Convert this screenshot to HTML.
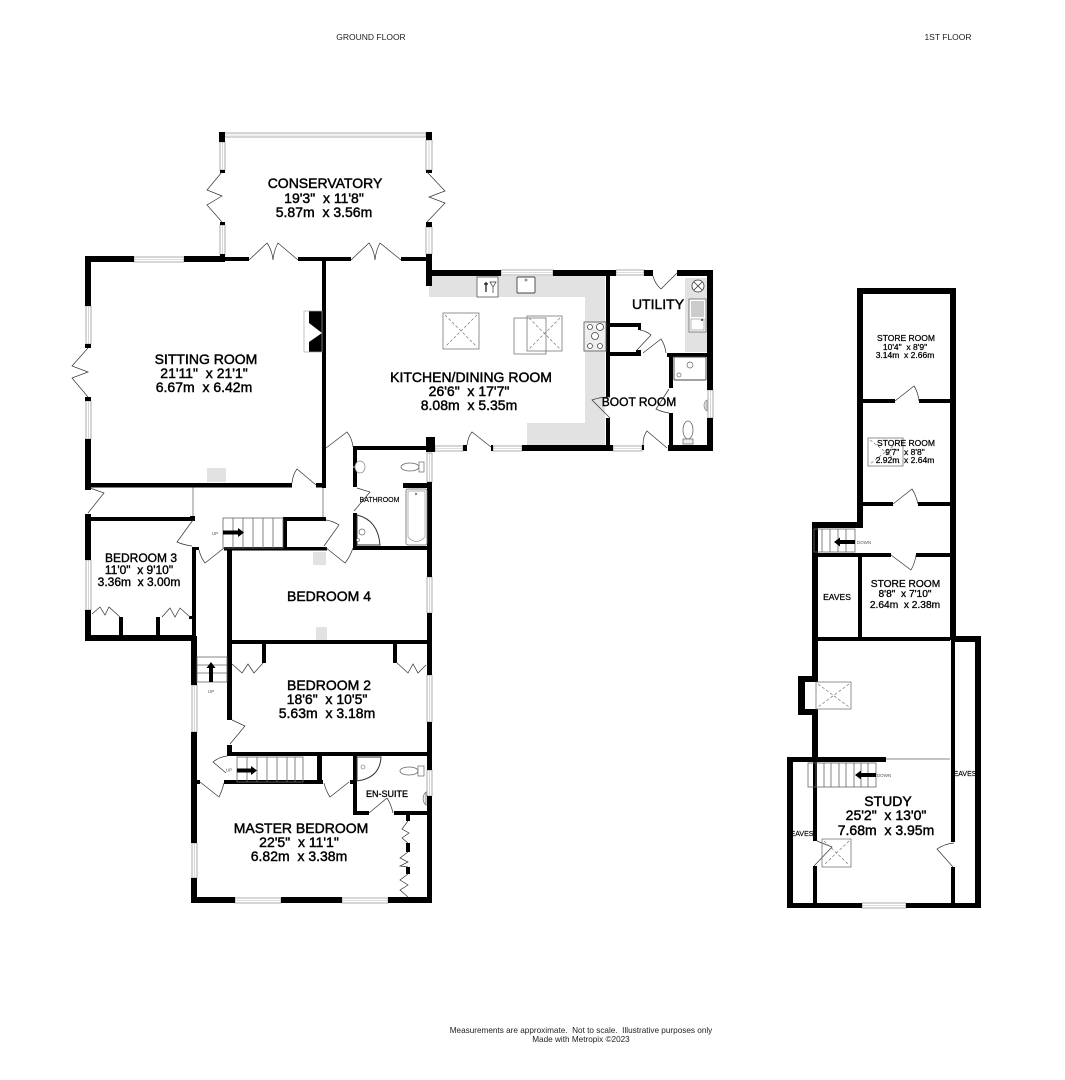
<!DOCTYPE html>
<html><head><meta charset="utf-8"><style>
html,body{margin:0;padding:0;background:#fff}
svg{display:block}
text{font-family:"Liberation Sans",sans-serif;text-anchor:middle;fill:#000;white-space:pre}
.l{font-size:14px;stroke:#000;stroke-width:.45}
.m{font-size:12px;stroke:#000;stroke-width:.38}
.s{font-size:10.2px;stroke:#000;stroke-width:.3}
.t{font-size:8.5px;stroke:#000;stroke-width:.25}
.x{font-size:7px;stroke:#000;stroke-width:.15}
.n{font-size:8.2px;fill:#222}
.h{font-size:8.5px;fill:#222}
.u{font-size:4.5px;fill:#555}
.w{fill:#000}
.d{fill:none;stroke:#333;stroke-width:.7}
.g{fill:#e2e2e2}
.o{fill:#fff;stroke:#777;stroke-width:.8}
.f{fill:none;stroke:#666;stroke-width:.8}
.k{fill:none;stroke:#777;stroke-width:.7;stroke-dasharray:3 2}
.win{fill:#fff;stroke:#999;stroke-width:.8}
</style></head><body>
<svg width="1065" height="1080" viewBox="0 0 1065 1080" xmlns="http://www.w3.org/2000/svg">
<rect width="1065" height="1080" fill="#fff"/>

<!-- grey counters -->
<path class="g" d="M429 276H605V445H527V423H585V393H585V297H429Z"/>
<rect class="g" x="685" y="278" width="22" height="74"/>
<rect class="g" x="207" y="468" width="19" height="14"/>
<rect class="g" x="313" y="552" width="13" height="13"/>
<rect class="g" x="316" y="627" width="11" height="13"/>

<!-- labels that get clipped by walls -->
<text class="x" x="965" y="776">EAVES</text>
<text class="x" x="802" y="836">EAVES</text>

<!-- windows -->
<g class="win">
<rect x="224" y="133" width="202" height="4"/>
<rect x="220" y="142" width="5" height="28"/><rect x="426" y="140" width="6" height="30"/>
<rect x="220" y="225" width="5" height="30"/><rect x="426" y="227" width="6" height="27"/>
<rect x="134" y="257" width="50" height="5"/>
<rect x="86" y="306" width="5" height="38"/><rect x="86" y="401" width="5" height="38"/>
<rect x="501" y="270" width="52" height="5"/><rect x="616" y="270" width="28" height="5"/>
<rect x="435" y="446" width="28" height="5"/><rect x="493" y="446" width="29" height="5"/>
<rect x="613" y="446" width="29" height="5"/>
<rect x="708" y="390" width="5" height="28"/>
<rect x="427" y="453" width="5" height="29"/>
<rect x="86" y="560" width="5" height="50"/>
<rect x="427" y="577" width="5" height="36"/><rect x="427" y="675" width="5" height="47"/>
<rect x="192" y="685" width="5" height="47"/><rect x="427" y="770" width="5" height="26"/>
<rect x="192" y="843" width="5" height="35"/>
<rect x="235" y="898" width="46" height="5"/><rect x="342" y="898" width="46" height="5"/>
<rect x="862" y="903" width="44" height="5"/>
</g>
<path d="M224 135H426M222.500 142V170M429 140V170M222.500 225V255M429 227V254M134 259.500H184M88.500 306V344M88.500 401V439M501 272.500H553M616 272.500H644M435 448.500H463M493 448.500H522M613 448.500H642M710.500 390V418M429.500 453V482M88.500 560V610M429.500 577V613M429.500 675V722M194.500 685V732M429.500 770V796M194.500 843V878M235 900.500H281M342 900.500H388M862 905.500H906" fill="none" stroke="#bbb" stroke-width=".6"/>

<!-- thin lines -->
<path d="M193 487V517M323 487V517M886 759H950" stroke="#888" stroke-width="1" fill="none"/>

<!-- walls -->
<g class="w">
<!-- conservatory -->
<rect x="219" y="132" width="6" height="10"/><rect x="426" y="132" width="6" height="8"/>
<rect x="220" y="170" width="5" height="3"/><rect x="426" y="170" width="6" height="3"/>
<rect x="220" y="222" width="5" height="3"/><rect x="426" y="222" width="6" height="5"/>
<rect x="220" y="254" width="5" height="8"/>
<!-- sitting room -->
<rect x="85" y="256" width="49" height="6"/><rect x="184" y="256" width="41" height="6"/>
<rect x="225" y="257" width="24" height="4"/><rect x="298" y="257" width="53" height="4"/>
<rect x="401" y="257" width="26" height="4"/><rect x="426" y="254" width="6" height="32"/>
<rect x="85" y="256" width="6" height="50"/><rect x="85" y="344" width="6" height="4"/>
<rect x="85" y="397" width="6" height="4"/><rect x="85" y="439" width="6" height="51"/>
<rect x="85" y="483" width="207" height="4.500"/><rect x="316" y="483" width="10" height="4.500"/>
<rect x="322" y="260" width="4" height="228"/>
<path d="M309 311H322V352H309V342L322 333 309 323Z"/>
<!-- kitchen -->
<rect x="432" y="270" width="69" height="6"/><rect x="553" y="270" width="63" height="6"/>
<rect x="644" y="270" width="9" height="6"/><rect x="677" y="270" width="36" height="6"/>
<rect x="707" y="270" width="6" height="120"/><rect x="707" y="418" width="6" height="33"/>
<rect x="668" y="445" width="45" height="6"/><rect x="522" y="445" width="91" height="6"/>
<rect x="642" y="445" width="2" height="5"/><rect x="463" y="445" width="4" height="6"/><rect x="491" y="445" width="2" height="6"/>
<rect x="426" y="437" width="9" height="15"/>
<rect x="606" y="276" width="4" height="121"/><rect x="606" y="418" width="4" height="29"/>
<rect x="610" y="323" width="30" height="4"/><rect x="638" y="323" width="3" height="7"/>
<rect x="610" y="352" width="31" height="4"/><rect x="636" y="350" width="5" height="4"/>
<rect x="667" y="353" width="41" height="4"/><rect x="669" y="353" width="4" height="35"/>
<rect x="669" y="413" width="4" height="38"/>
<!-- bathroom -->
<rect x="353" y="446" width="74" height="4"/><rect x="353" y="446" width="4" height="41"/>
<rect x="403" y="483" width="29" height="5"/><rect x="427" y="482" width="5" height="95"/>
<rect x="353" y="513" width="4" height="35"/><rect x="353" y="546" width="79" height="4"/>
<!-- hall/stairs -->
<rect x="85" y="514" width="6" height="46"/><rect x="85" y="517" width="110" height="4"/>
<rect x="85" y="610" width="6" height="31"/><rect x="85" y="635" width="111" height="6"/>
<rect x="190" y="516" width="5" height="5"/><rect x="192" y="547" width="4" height="93"/>
<rect x="192" y="547" width="7" height="3"/>
<rect x="191" y="636" width="6" height="49"/>
<rect x="224" y="547" width="103" height="3.500"/><rect x="283" y="517" width="43" height="4"/>
<rect x="283" y="518" width="4" height="30"/>
<rect x="227" y="550" width="5" height="170"/><rect x="227" y="640" width="205" height="4"/>
<rect x="427" y="613" width="5" height="62"/>
<rect x="119" y="617" width="4" height="18"/><rect x="156" y="617" width="4" height="18"/>
<rect x="189" y="616" width="3" height="3"/>
<rect x="262" y="644" width="4" height="19"/><rect x="393" y="644" width="4" height="19"/>
<!-- bedroom 2 / master -->
<rect x="427" y="722" width="5" height="48"/><rect x="427" y="796" width="5" height="107"/>
<rect x="227" y="745" width="5" height="10"/><rect x="227" y="752" width="205" height="4"/>
<rect x="191" y="732" width="6" height="111"/><rect x="191" y="878" width="6" height="25"/>
<rect x="191" y="897" width="44" height="6"/><rect x="281" y="897" width="61" height="6"/><rect x="388" y="897" width="44" height="6"/>
<rect x="197" y="780" width="3" height="4"/><rect x="224" y="780" width="99" height="4"/>
<rect x="317" y="756" width="5" height="26"/><rect x="350" y="780" width="3" height="4"/>
<rect x="353" y="756" width="4" height="59"/><rect x="353" y="811" width="16" height="4"/>
<rect x="394" y="811" width="33" height="4"/>
<rect x="406" y="815" width="4" height="6"/><rect x="406" y="843" width="4" height="9"/><rect x="406" y="867" width="4" height="7"/>
<!-- first floor -->
<rect x="857" y="288" width="99" height="6"/><rect x="857" y="288" width="6" height="240"/>
<rect x="950" y="288" width="6" height="352"/>
<rect x="863" y="399" width="32" height="4"/><rect x="919" y="399" width="31" height="4"/>
<rect x="863" y="502" width="30" height="4"/><rect x="918" y="502" width="32" height="4"/>
<rect x="812" y="522" width="51" height="6"/><rect x="812" y="522" width="6" height="154"/>
<rect x="818" y="553" width="73" height="4"/><rect x="916" y="553" width="34" height="4"/>
<rect x="858" y="555" width="4" height="84"/>
<rect x="812" y="637" width="138" height="4"/><rect x="953" y="636" width="28" height="6"/>
<rect x="975" y="636" width="6" height="272"/><rect x="951" y="640" width="4" height="202"/>
<rect x="951" y="867" width="4" height="38"/>
<rect x="798" y="676" width="20" height="6"/><rect x="798" y="676" width="7" height="39"/><rect x="798" y="709" width="20" height="6"/>
<rect x="812" y="709" width="6" height="48"/>
<rect x="787" y="757" width="6" height="151"/><rect x="787" y="757" width="99" height="5"/>
<rect x="787" y="903" width="75" height="5"/><rect x="906" y="903" width="75" height="5"/>
<rect x="813" y="762" width="4" height="79"/><rect x="813" y="866" width="4" height="39"/>
</g>

<!-- fireplace outline -->
<rect x="304" y="311" width="18" height="41" fill="none" stroke="#aaa" stroke-width=".7"/>

<!-- doors -->
<g class="d">
<path d="M222 172L207 190 222 196 207 205 222 222"/>
<path d="M427 172L445 191 429 197 445 203 427 222"/>
<path d="M249 260L267 243Q272 250 273 260Q274 250 278 243L298 260"/>
<path d="M351 260L369 243Q374 250 375 260Q376 250 380 243L401 260"/>
<path d="M88 348L72 366 88 372 72 378 88 397"/>
<path d="M292 483Q293 474 297 469L316 485"/>
<path d="M326 448L347 432Q352 438 353 447"/>
<path d="M90 488L104 493 88 513"/>
<path d="M357 488L370 492 354 511"/>
<path d="M653 276Q655 284 661 289L677 273"/>
<path d="M640 330Q646 331 651 335L636 351"/>
<path d="M643 353L661 339Q665 345 666 353"/>
<path d="M669 389L656 409Q662 412 669 413"/>
<path d="M610 397Q600 397 592 400L610 418"/>
<path d="M643 445Q643 436 647 431L667 448"/>
<path d="M467 445Q468 437 472 432L491 447"/>
<path d="M193 520L177 542Q184 545 192 546"/>
<path d="M199 550Q201 558 205 563L224 548"/>
<path d="M326 520Q333 521 339 525L324 546"/>
<path d="M325 547L345 563Q350 557 353 548"/>
<path d="M92 614L100 607 105 615 109 607 120 617"/>
<path d="M162 617L170 608 175 617 180 608 190 617"/>
<path d="M232 664L242 673 248 664 254 673 263 663"/>
<path d="M396 662L408 673 413 664 418 673 426 665"/>
<path d="M232 720L245 726 230 744"/>
<path d="M226 773L213 762Q219 757 227 756"/>
<path d="M200 782L219 797Q222 791 224 783"/>
<path d="M324 783Q326 791 330 797L349 782"/>
<path d="M369 813L387 798Q391 804 393 813"/>
<path d="M408 821L402 829 409 833 402 838 408 843"/>
<path d="M408 852L400 858 408 862 400 866 408 867"/>
<path d="M408 874L400 880 408 885 400 890 408 897"/>
<path d="M895 401L914 386Q918 392 919 401"/>
<path d="M893 504L912 489Q916 495 918 504"/>
<path d="M891 555L911 570Q915 563 916 555"/>
<path d="M954 843Q944 844 937 849L953 867"/>
<path d="M817 841L832 847 814 866"/>
</g>

<!-- skylights -->
<rect x="443" y="313" width="36" height="36" style="fill:none" class="o"/>
<path class="k" d="M445 315L477 347M477 315L445 347"/>
<rect x="527" y="316" width="35" height="35" style="fill:none" class="o"/>
<path class="k" d="M529 318L560 349M560 318L529 349"/>
<rect x="514" y="318" width="32" height="36" style="fill:none" class="o"/>
<rect x="816" y="682" width="35" height="27" style="fill:none" class="o"/>
<path class="k" d="M818 684L849 707M849 684L818 707"/>
<rect x="822" y="839" width="29" height="28" style="fill:none" class="o"/>
<path class="k" d="M824 841L849 865M849 841L824 865"/>
<rect x="868" y="438" width="35" height="28" style="fill:none" class="o"/>
<path class="k" d="M870 440L901 464M901 440L870 464"/>

<!-- fixtures -->
<rect x="477" y="277" width="21" height="20" fill="#fff" stroke="#555" stroke-width=".8"/>
<path d="M486 282V292M484 284H488" stroke="#111" stroke-width="1.200" fill="none"/>
<path d="M490 282H496L493 287ZM493 287V293" stroke="#333" stroke-width=".7" fill="none"/>
<rect x="517" y="277" width="18" height="16" rx="1" fill="#fff" stroke="#444" stroke-width=".9"/>
<circle cx="526" cy="280" r="1.500" fill="#999"/>
<rect x="584" y="322" width="22" height="29" fill="#eee" stroke="#555" stroke-width=".8"/>
<g fill="#fff" stroke="#444" stroke-width=".8">
<circle cx="590" cy="327" r="2.500"/><circle cx="600" cy="327" r="3.500"/><circle cx="595" cy="336" r="3.500"/><circle cx="590" cy="346" r="2.500"/><circle cx="600" cy="346" r="2.500"/>
</g>
<circle cx="698" cy="286" r="6" fill="#fff" stroke="#333" stroke-width=".8"/>
<path d="M694 282L702 290M702 282L694 290" stroke="#333" stroke-width=".8"/>
<rect x="689" y="299" width="17" height="33" fill="#fff" stroke="#666" stroke-width=".8"/>
<rect x="691" y="301" width="13" height="16" fill="#ccc"/>
<rect x="691" y="319" width="13" height="11" fill="#fff" stroke="#888" stroke-width=".6"/>
<circle cx="702" cy="320" r="1" fill="#333"/>
<rect x="674" y="357" width="32" height="23" rx="1" fill="#fff" stroke="#444" stroke-width=".9"/>
<circle cx="690" cy="365" r="3" fill="#fff" stroke="#666" stroke-width=".7"/>
<circle cx="679" cy="375" r="2" fill="#fff" stroke="#666" stroke-width=".7"/>
<path d="M707 400A5 6 0 0 0 707 411Z" fill="#ddd" stroke="#777" stroke-width=".6"/>
<ellipse cx="688" cy="430" rx="5" ry="9" fill="#fff" stroke="#666" stroke-width=".8"/>
<rect x="683" y="439" width="10" height="5" fill="#eee" stroke="#666" stroke-width=".7"/>
<ellipse cx="360" cy="467" rx="5" ry="6" fill="#fff" stroke="#888" stroke-width=".7"/>
<ellipse cx="354" cy="467" rx="1" ry="1" fill="#888"/>
<ellipse cx="410" cy="467" rx="9" ry="4" fill="#fff" stroke="#666" stroke-width=".8"/>
<rect x="419" y="462" width="5" height="10" fill="#fff" stroke="#666" stroke-width=".7"/>
<rect x="406" y="489" width="21" height="56" rx="2" fill="#fff" stroke="#666" stroke-width=".8"/>
<path d="M408 491H425V537Q416 546 408 537Z" fill="#fff" stroke="#999" stroke-width=".7"/>
<circle cx="416" cy="494" r="1.200" fill="#888"/>
<path d="M357 515Q378 520 380 545H357Z" fill="#fff" stroke="#333" stroke-width="1"/>
<circle cx="362" cy="532" r="3" fill="#fff" stroke="#666" stroke-width=".7"/>
<circle cx="358" cy="540" r="1.500" fill="#fff" stroke="#666" stroke-width=".6"/>
<path d="M357 757H381Q380 778 357 781Z" fill="#fff" stroke="#333" stroke-width="1"/>
<circle cx="363" cy="767" r="2" fill="#fff" stroke="#666" stroke-width=".6"/>
<ellipse cx="409" cy="771" rx="9" ry="4" fill="#fff" stroke="#666" stroke-width=".8"/>
<rect x="418" y="766" width="6" height="10" fill="#fff" stroke="#666" stroke-width=".7"/>
<path d="M426 792A7 8 0 0 0 426 805Z" fill="#eee" stroke="#666" stroke-width=".7"/>

<!-- stairs -->
<g class="f">
<rect x="223" y="518" width="60" height="30"/>
<path d="M233 518V548M243 518V548M253 518V548M263 518V548M273 518V548"/>
<rect x="197" y="657" width="30" height="25"/>
<path d="M197 665H227M197 673H227"/>
<rect x="237" y="757" width="66" height="25"/>
<path d="M247 757V782M257 757V782M267 757V782M277 757V782M287 757V782M295 757V782"/>
<rect x="814" y="529" width="41" height="23"/>
<path d="M822 529V552M830 529V552M838 529V552M846 529V552"/>
<rect x="808" y="763" width="68" height="24"/>
<path d="M816 763V787M824 763V787M831 763V787M839 763V787M846 763V787M854 763V787M861 763V787M868 763V787"/>
</g>
<g class="w">
<path d="M223 530.500H238V528L244 532.500 238 537V534.500H223Z"/>
<path d="M209 682V668H206.500L211 662 215.500 668H213V682Z"/>
<path d="M237 768.500H251V766L257 770.500 251 775V772.500H237Z"/>
<path d="M855 540H840V537.500L834 542 840 546.500V544H855Z"/>
<path d="M876 773H861V770.500L855 775 861 779.500V777H876Z"/>
</g>
<text class="u" x="215" y="535">UP</text>
<text class="u" x="211" y="693">UP</text>
<text class="u" x="229" y="771.500">UP</text>
<text class="u" x="864" y="544">DOWN</text>
<text class="u" x="884" y="777">DOWN</text>

<!-- labels -->
<text class="h" x="371" y="40">GROUND FLOOR</text>
<text class="h" x="948" y="40">1ST FLOOR</text>

<text class="l" x="325" y="188">CONSERVATORY</text>
<text class="l" x="324" y="203">19'3"  x 11'8"</text>
<text class="l" x="324" y="217">5.87m  x 3.56m</text>

<text class="l" x="206" y="364">SITTING ROOM</text>
<text class="l" x="204" y="378">21'11"  x 21'1"</text>
<text class="l" x="204" y="392">6.67m  x 6.42m</text>

<text class="l" x="471" y="382">KITCHEN/DINING ROOM</text>
<text class="l" x="469" y="396">26'6"  x 17'7"</text>
<text class="l" x="469" y="410">8.08m  x 5.35m</text>

<text class="l" x="658" y="309">UTILITY</text>
<text class="m" x="639" y="406">BOOT ROOM</text>
<text class="x" x="379.500" y="502">BATHROOM</text>

<text class="m" x="141" y="562">BEDROOM 3</text>
<text class="m" x="139" y="574">11'0"  x 9'10"</text>
<text class="m" x="139" y="586">3.36m  x 3.00m</text>

<text class="l" x="329" y="601">BEDROOM 4</text>

<text class="l" x="329" y="690">BEDROOM 2</text>
<text class="l" x="327" y="704">18'6"  x 10'5"</text>
<text class="l" x="327" y="718">5.63m  x 3.18m</text>

<text class="s" x="387" y="797" style="font-size:9px">EN-SUITE</text>

<text class="l" x="301" y="833">MASTER BEDROOM</text>
<text class="l" x="299" y="847">22'5"  x 11'1"</text>
<text class="l" x="299" y="861">6.82m  x 3.38m</text>

<text class="t" x="906" y="341">STORE ROOM</text>
<text class="t" x="905" y="350">10'4"  x 8'9"</text>
<text class="t" x="905" y="358">3.14m  x 2.66m</text>

<text class="t" x="906" y="446">STORE ROOM</text>
<text class="t" x="905" y="455">9'7"  x 8'8"</text>
<text class="t" x="905" y="463">2.92m  x 2.64m</text>

<text class="s" x="905.500" y="587">STORE ROOM</text>
<text class="s" x="905" y="597">8'8"  x 7'10"</text>
<text class="s" x="905" y="608">2.64m  x 2.38m</text>

<text class="t" x="837" y="600">EAVES</text>

<text class="l" x="888" y="806">STUDY</text>
<text class="l" x="886" y="820">25'2"  x 13'0"</text>
<text class="l" x="886" y="835">7.68m  x 3.95m</text>

<text class="n" x="581" y="1033">Measurements are approximate.  Not to scale.  Illustrative purposes only</text>
<text class="n" x="581" y="1042">Made with Metropix ©2023</text>
</svg>
</body></html>
